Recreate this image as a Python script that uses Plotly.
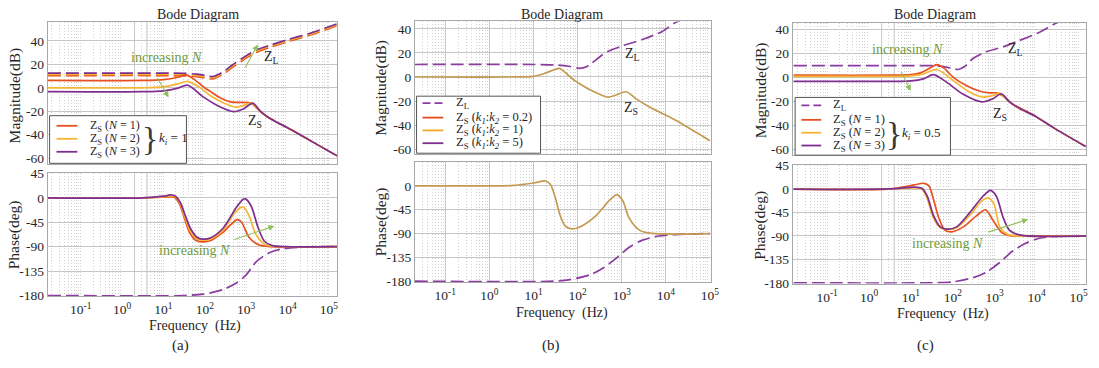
import numpy as np
import plotly.graph_objects as go

W, H = 1099, 368
FONT = "Liberation Serif"

# ---------------- data (log10 of frequency in Hz, and values) ----------------
# panel (a): magnitude
a_f_zs1 = [-1.8, 0.5, 1.0, 1.35, 1.55, 1.7, 1.98, 2.14, 2.38, 2.62, 2.94, 3.1, 3.2, 3.3, 3.5, 3.75, 4.0, 4.5, 5.0, 5.2]
a_m_zs1 = [6.3, 6.3, 7.0, 9.0, 11.0, 8.2, 0.5, -3.3, -8.7, -12.0, -12.5, -12.8, -15.5, -19.0, -24.5, -29.5, -34, -44, -54, -58]
a_f_zs2 = [-1.8, 0.5, 1.0, 1.35, 1.58, 1.83, 2.14, 2.46, 2.74, 2.94, 3.13, 3.2, 3.3, 3.5, 3.75, 4.0, 4.5, 5.0, 5.2]
a_m_zs2 = [0.0, 0.0, 0.8, 3.3, 5.5, 1.4, -6.8, -13.0, -16.5, -15.0, -13.0, -15.0, -18.5, -24.5, -29.5, -34, -44, -54, -58]
a_f_zs3 = [-1.8, 0.5, 1.0, 1.35, 1.58, 1.98, 2.3, 2.7, 2.94, 3.16, 3.25, 3.33, 3.5, 3.75, 4.0, 4.5, 5.0, 5.2]
a_m_zs3 = [-3.3, -3.3, -2.6, -0.3, 2.2, -8.2, -15.0, -20.3, -17.8, -13.0, -16.0, -19.5, -24.5, -29.5, -34, -44, -54, -58]
a_f_zl = [-1.8, 1.0, 1.5, 1.8, 2.0, 2.2, 2.35, 2.5, 2.65, 2.9, 3.1, 3.3, 3.6, 4.0, 4.5, 5.0, 5.2]
a_m_zl3 = [12.5, 12.5, 12.3, 11.6, 10.5, 9.6, 11.8, 15.0, 19.0, 25.0, 29.5, 33.0, 36.5, 41.0, 46.0, 52.0, 54.5]
a_m_zl2 = [11.4, 11.4, 11.2, 10.5, 9.4, 8.6, 10.8, 14.0, 18.0, 24.0, 28.5, 32.0, 35.7, 40.1, 45.2, 51.2, 53.7]
a_m_zl1 = [10.4, 10.4, 10.2, 9.5, 8.4, 7.6, 9.8, 13.0, 17.0, 23.0, 27.5, 31.0, 34.8, 39.3, 44.4, 50.4, 53.0]
# panel (a): phase
a_pf_zs1 = [-1.8, 0.5, 1.0, 1.17, 1.27, 1.38, 1.5, 1.62, 1.78, 1.95, 2.13, 2.4, 2.62, 2.78, 2.88, 3.08, 3.32, 3.6, 5.2]
a_p_zs1 = [0, 0, 1.2, 1.8, 0.5, -10, -36, -62, -78, -81, -79, -66, -50, -40, -44, -74, -87, -90, -90]
a_pf_zs2 = [-1.8, 0.5, 1.0, 1.17, 1.29, 1.4, 1.52, 1.64, 1.8, 1.95, 2.13, 2.44, 2.72, 2.89, 2.95, 3.08, 3.24, 3.48, 3.8, 5.2]
a_p_zs2 = [0, 0, 2, 3, 1.5, -10, -36, -60, -75, -78, -76, -60, -28, -17, -18, -35, -68, -87, -90, -90]
a_pf_zs3 = [-1.8, 0.5, 1.0, 1.17, 1.29, 1.41, 1.53, 1.65, 1.81, 1.95, 2.13, 2.44, 2.76, 2.92, 2.98, 3.12, 3.28, 3.44, 3.63, 3.95, 5.2]
a_p_zs3 = [0, 0, 3, 5.3, 3, -9, -33, -56, -72.5, -76, -74, -56, -18, -3, -1.8, -15, -53, -80, -88, -90, -90]
a_pf_zl = [-1.8, 1.5, 1.97, 2.44, 2.76, 3.0, 3.24, 3.56, 3.87, 4.27, 4.7, 5.2]
a_p_zl = [-180, -180, -177.5, -169, -157, -142, -118, -101, -94, -91, -90, -90]

# panel (b): magnitude (the three Z_S curves coincide)
b_f_zs = [-1.7, 0.5, 1.0, 1.23, 1.46, 1.59, 1.72, 1.9, 2.01, 2.28, 2.5, 2.69, 2.87, 3.1, 3.32, 3.62, 4.22, 5.0]
b_m_zs = [0, 0, 0.5, 2.7, 5.9, 7.2, 3.7, -2.1, -4.8, -10.7, -14.4, -16.8, -15, -12.3, -18, -24.8, -36, -53]
b_f_zl = [-1.7, 1.0, 1.53, 1.83, 2.05, 2.2, 2.31, 2.54, 2.72, 3.02, 3.47, 3.92, 4.22, 4.6, 5.0]
b_m_zl = [10.4, 10.4, 9.9, 8.7, 7.2, 8.5, 11.2, 17.9, 21.9, 25.9, 31.2, 37.9, 45.3, 51, 57]
# panel (b): phase
b_pf_zs = [-1.7, 0.0, 0.49, 1.0, 1.27, 1.38, 1.49, 1.6, 1.72, 1.85, 2.05, 2.43, 2.72, 2.89, 3.02, 3.17, 3.4, 3.69, 5.0]
b_p_zs = [0, 0, 0.6, 5.5, 9.2, 3, -21, -55, -76, -81, -77.5, -55, -27.5, -16.5, -27.5, -61, -83.6, -89.7, -90]
b_pf_zl = [-1.7, 1.46, 1.83, 2.28, 2.57, 2.87, 3.17, 3.47, 3.84, 4.22, 5.0]
b_p_zl = [-180, -180, -177, -168, -155.6, -137, -116, -102.5, -94.6, -92, -90]

# panel (c): magnitude
c_f_zs1 = [-1.8, 0.5, 1.0, 1.23, 1.46, 1.62, 1.78, 2.02, 2.33, 2.65, 2.88, 3.04, 3.2, 3.43, 3.98, 4.38, 5.17]
c_m_zs1 = [2, 2, 2.5, 4, 8.1, 10.8, 8.1, 0, -6.8, -11.4, -12.7, -12.8, -15.4, -22, -32.4, -41.4, -57.6]
c_f_zs2 = [-1.8, 0.5, 1.0, 1.3, 1.62, 2.02, 2.41, 2.72, 2.96, 3.12, 3.31, 3.59, 3.98, 4.38, 5.17]
c_m_zs2 = [1, 1, 1.4, 3, 6.8, -2.7, -12.2, -16.2, -14.9, -13, -19, -26, -32.4, -41.4, -57.6]
c_f_zs3 = [-1.8, 0.5, 1.0, 1.3, 1.54, 1.86, 2.25, 2.69, 2.96, 3.16, 3.35, 3.59, 3.98, 4.38, 5.17]
c_m_zs3 = [-3.2, -3.2, -2.8, -1, 2.5, -4, -14, -20.3, -17.6, -13.5, -20.3, -25.7, -32.4, -41.4, -57.6]
c_f_zl = [-1.8, 1.0, 1.62, 1.94, 2.13, 2.29, 2.49, 2.8, 3.2, 3.59, 4.06, 4.5, 5.2]
c_m_zl = [10, 10, 9.9, 8.1, 6.8, 9.5, 16.2, 21.6, 25.7, 31, 37.8, 46, 55]
# panel (c): phase
c_pf_zs1 = [-1.8, 0.5, 1.07, 1.31, 1.43, 1.54, 1.66, 1.81, 1.98, 2.25, 2.57, 2.78, 2.96, 3.16, 3.35, 3.7, 5.2]
c_p_zs1 = [0, 0.3, 8, 11.2, 6.2, -20, -54, -78.8, -82, -72.6, -51, -39.7, -60, -83, -89.4, -90, -90]
c_pf_zs2 = [-1.8, 0.5, 1.07, 1.25, 1.37, 1.52, 1.68, 1.86, 2.09, 2.41, 2.7, 2.84, 2.98, 3.12, 3.31, 3.6, 5.2]
c_p_zs2 = [0, 0, 2.5, 0.8, -14, -52, -73, -77.6, -74, -50, -22, -16.8, -28, -72.6, -87, -90, -90]
c_pf_zs3 = [-1.8, 0.5, 1.07, 1.27, 1.39, 1.54, 1.7, 1.86, 2.09, 2.41, 2.72, 2.9, 3.04, 3.2, 3.35, 3.59, 5.2]
c_p_zs3 = [0, 0.3, 3.7, 1.2, -13.7, -51, -72.6, -77, -72.6, -44.7, -13.7, -2.5, -13.7, -54, -78.8, -88, -90]
c_pf_zl = [-1.8, 1.5, 2.02, 2.49, 2.8, 3.12, 3.43, 3.75, 4.06, 4.38, 5.2]
c_p_zl = [-180, -180, -178, -170, -159.5, -141, -119, -103.7, -94.4, -91.2, -90]

# tick labels
mag_ticks = [-60, -40, -20, 0, 20, 40]
mag_labels = ["-60", "-40", "-20", "0", "20", "40"]
ph_ticks = [-180, -135, -90, -45, 0, 45]
ph_labels = ["-180", "-135", "-90", "-45", "0", "45"]
dec_exps = [-1, 0, 1, 2, 3, 4, 5]
dec_labels = ["10<sup>%d</sup>" % e for e in dec_exps]

# ---------------- styling ----------------
C1, C2, C3 = "#e8501f", "#f6b534", "#7d2e8f"
CZL = "#8a3d9f"
CB = "#c49a50"
B1, B2, B3 = "#e84a1c", "#f6a623", "#7d2e8f"
GT, GA = "#6f9b3d", "#8fc05e"
GRID, MGRID, FRAME = "#c6c6c6", "#d0d0d0", "#a8a8a8"
TXT = "#262626"
TICKFONT = dict(family=FONT, size=13.5, color=TXT)

def X(px):
    return px / W

def Y(py):
    return 1 - py / H

panels = [
    dict(x0=48, x1=340, mag=(16, 163), ph=(172.5, 300.5), xr=[-1.8, 5.2], magr=[-64.75, 55.7], phr=[-181, 45.9], solid_all=False),
    dict(x0=418.3, x1=716.7, mag=(15, 153), ph=(161.5, 286), xr=[-1.69, 5.02], magr=[-64.2, 46.2], phr=[-181.8, 44.5], solid_all=True),
    dict(x0=799.3, x1=1095, mag=(16.7, 154), ph=(164, 287.5), xr=[-1.82, 5.18], magr=[-64.8, 45.6], phr=[-181.5, 46.8], solid_all=False),
]

fig = go.Figure()
layout = dict(width=W, height=H, margin=dict(l=0, r=0, t=0, b=0), paper_bgcolor="white",
              plot_bgcolor="white", showlegend=False, font=dict(family=FONT, size=13, color=TXT))
shapes, annotations = [], []

def ax_ids(k):
    return ("x" if k == 1 else "x%d" % k), ("y" if k == 1 else "y%d" % k)

for i, p in enumerate(panels):
    for j, kind in enumerate(["mag", "ph"]):
        k = 2 * i + j + 1
        xid, yid = ax_ids(k)
        ytop, ybot = p[kind]
        minor_vals = [m * 10.0 ** d for d in range(-2, 6) for m in range(2, 10)]
        if not p["solid_all"]:
            minor_vals += [10.0 ** d for d in (-1, 1, 3, 5)]
        xa = dict(domain=[X(p["x0"]), X(p["x1"])], type="log", range=p["xr"], anchor=yid,
                  showline=True, mirror=True, linecolor=FRAME, linewidth=1, ticks="",
                  tickvals=[10.0 ** e for e in dec_exps], ticktext=dec_labels,
                  showticklabels=(kind == "ph"), tickfont=TICKFONT, ticklabelstandoff=1,
                  showgrid=p["solid_all"], gridcolor=GRID, gridwidth=1, zeroline=False,
                  minor=dict(tickvals=minor_vals, showgrid=True, gridcolor=MGRID, griddash="1px,2px",
                             gridwidth=1, ticks=""))
        ya = dict(domain=[Y(ybot), Y(ytop)], range=p[kind + "r"], anchor=xid,
                  showline=True, mirror=True, linecolor=FRAME, linewidth=1, ticks="",
                  tickvals=mag_ticks if kind == "mag" else ph_ticks,
                  ticktext=mag_labels if kind == "mag" else ph_labels,
                  tickfont=TICKFONT, showgrid=True, gridcolor=GRID, gridwidth=1,
                  zeroline=False)
        layout["xaxis" if k == 1 else "xaxis%d" % k] = xa
        layout["yaxis" if k == 1 else "yaxis%d" % k] = ya
        if not p["solid_all"]:
            for e in (0, 2, 4):
                shapes.append(dict(type="line", xref=xid, yref=yid + " domain",
                                   x0=e, x1=e, y0=0, y1=1, line=dict(color=GRID, width=1), layer="below"))

def add(lf, vals, color, k, dash=None, width=1.7):
    xa, ya = ax_ids(k)
    fig.add_trace(go.Scatter(x=np.power(10.0, lf), y=vals, mode="lines", xaxis=xa, yaxis=ya,
                             line=dict(color=color, width=width, dash=dash, shape="spline", smoothing=0.8),
                             hoverinfo="skip"))

DASH = "13px,5px"
# (a)
add(a_f_zl, a_m_zl1, C1, 1, DASH)
add(a_f_zl, a_m_zl2, C2, 1, DASH)
add(a_f_zl, a_m_zl3, C3, 1, DASH)
add(a_f_zs1, a_m_zs1, C1, 1)
add(a_f_zs2, a_m_zs2, C2, 1)
add(a_f_zs3, a_m_zs3, C3, 1)
add(a_pf_zl, a_p_zl, CZL, 2, DASH)
add(a_pf_zs1, a_p_zs1, C1, 2)
add(a_pf_zs2, a_p_zs2, C2, 2)
add(a_pf_zs3, a_p_zs3, C3, 2)
# (b)
add(b_f_zl, b_m_zl, CZL, 3, DASH)
add(b_f_zs, b_m_zs, CB, 3)
add(b_pf_zl, b_p_zl, CZL, 4, DASH)
add(b_pf_zs, b_p_zs, CB, 4)
# (c)
add(c_f_zl, c_m_zl, CZL, 5, DASH)
add(c_f_zs1, c_m_zs1, C1, 5)
add(c_f_zs2, c_m_zs2, C2, 5)
add(c_f_zs3, c_m_zs3, C3, 5)
add(c_pf_zl, c_p_zl, CZL, 6, DASH)
add(c_pf_zs1, c_p_zs1, C1, 6)
add(c_pf_zs2, c_p_zs2, C2, 6)
add(c_pf_zs3, c_p_zs3, C3, 6)

def ann(x, y, text, size=14, color=TXT, xanchor="center", angle=0):
    annotations.append(dict(x=X(x), y=Y(y), xref="paper", yref="paper", text=text, showarrow=False,
                            xanchor=xanchor, yanchor="middle", textangle=angle,
                            font=dict(family=FONT, size=size, color=color)))

def arrow(xt, yt, xh, yh):
    annotations.append(dict(x=X(xh), y=Y(yh), xref="paper", yref="paper", ax=xt - xh, ay=yt - yh,
                            text="", showarrow=True, arrowhead=2, arrowsize=1.1, arrowwidth=1.1,
                            arrowcolor=GA))

# titles / axis labels
for cx in (200, 567, 943):
    ann(cx, 8, "Bode Diagram", 14)
ann(15, 92, "Magnitude(dB)", 15.5, angle=-90)
ann(14.5, 237, "Phase(deg)", 15.5, angle=-90)
ann(384, 84, "Magnitude(dB)", 15.5, angle=-90)
ann(384, 223, "Phase(deg)", 15.5, angle=-90)
ann(766.7, 86, "Magnitude(dB)", 15.5, angle=-90)
ann(766.7, 227, "Phase(deg)", 15.5, angle=-90)
ann(197, 332, "Frequency  (Hz)", 14)
ann(567, 318, "Frequency  (Hz)", 14)
ann(951, 319, "Frequency  (Hz)", 14)
ann(182, 352, "(a)", 15)
ann(556, 352, "(b)", 15)
ann(933, 352, "(c)", 15)

# in-plot labels
ann(168, 52, "increasing <i>N</i>", 14, GT)
arrow(158, 73, 170, 94)
arrow(246.7, 63.3, 260, 39)
ann(274, 53, "Z<sub>L</sub>", 14)
ann(257, 119, "Z<sub>S</sub>", 14)
ann(196, 253, "increasing <i>N</i>", 14, GT)
arrow(235, 241.7, 276.7, 227.7)
ann(638, 49, "Z<sub>L</sub>", 14)
ann(636, 106, "Z<sub>S</sub>", 14)
ann(915, 44, "increasing <i>N</i>", 14, GT)
arrow(908, 66.7, 918.3, 87.3)
ann(1024, 44, "Z<sub>L</sub>", 14)
ann(1008, 112, "Z<sub>S</sub>", 14)
ann(955, 246, "increasing <i>N</i>", 14, GT)
arrow(995, 234, 1036.7, 220.7)

# legends (box, samples, texts)
def legend_box(x0, y0, x1, y1):
    shapes.append(dict(type="rect", xref="paper", yref="paper", x0=X(x0), x1=X(x1), y0=Y(y1), y1=Y(y0),
                       fillcolor="white", line=dict(color="#555555", width=1), layer="above"))

def legend_item(lx0, lx1, y, color, text, tx, dash=None, size=12.5):
    shapes.append(dict(type="line", xref="paper", yref="paper", x0=X(lx0), x1=X(lx1), y0=Y(y), y1=Y(y),
                       line=dict(color=color, width=1.8, dash=dash), layer="above"))
    ann(tx, y, text, size, TXT, xanchor="left")

legend_box(50, 113, 188, 162.5)
legend_item(57, 78, 123.5, C1, "Z<sub>S</sub> (<i>N</i> = 1)", 89, size=12)
legend_item(57, 78, 137, C2, "Z<sub>S</sub> (<i>N</i> = 2)", 89, size=12)
legend_item(57, 78, 150.5, C3, "Z<sub>S</sub> (<i>N</i> = 3)", 89, size=12)
ann(151.5, 137, "}", 34, "#3a3a3a")
ann(158, 137, "<i>k</i><sub><i>i</i></sub> = 1", 13, TXT, xanchor="left")

legend_box(420, 92.7, 545, 152)
legend_item(426, 447, 100, CZL, "Z<sub>L</sub>", 458, dash="8px,4px")
legend_item(426, 447, 115, B1, "Z<sub>S</sub> (<i>k</i><sub><i>1</i></sub>:<i>k</i><sub><i>2</i></sub> = 0.2)", 458)
legend_item(426, 447, 128.3, B2, "Z<sub>S</sub> (<i>k</i><sub><i>1</i></sub>:<i>k</i><sub><i>2</i></sub> = 1)", 458)
legend_item(426, 447, 141.6, B3, "Z<sub>S</sub> (<i>k</i><sub><i>1</i></sub>:<i>k</i><sub><i>2</i></sub> = 5)", 458)

legend_box(801.7, 94, 958.3, 154)
legend_item(808, 828, 102.3, CZL, "Z<sub>L</sub>", 838, dash="8px,4px")
legend_item(808, 828, 117.3, C1, "Z<sub>S</sub> (<i>N</i> = 1)", 838)
legend_item(808, 828, 130.7, C2, "Z<sub>S</sub> (<i>N</i> = 2)", 838)
legend_item(808, 828, 144, C3, "Z<sub>S</sub> (<i>N</i> = 3)", 838)
ann(901, 131, "}", 34, "#3a3a3a")
ann(907.5, 131, "<i>k</i><sub><i>i</i></sub> = 0.5", 13, TXT, xanchor="left")

layout["shapes"] = shapes
layout["annotations"] = annotations
fig.update_layout(**layout)
fig.write_html("out.html")
